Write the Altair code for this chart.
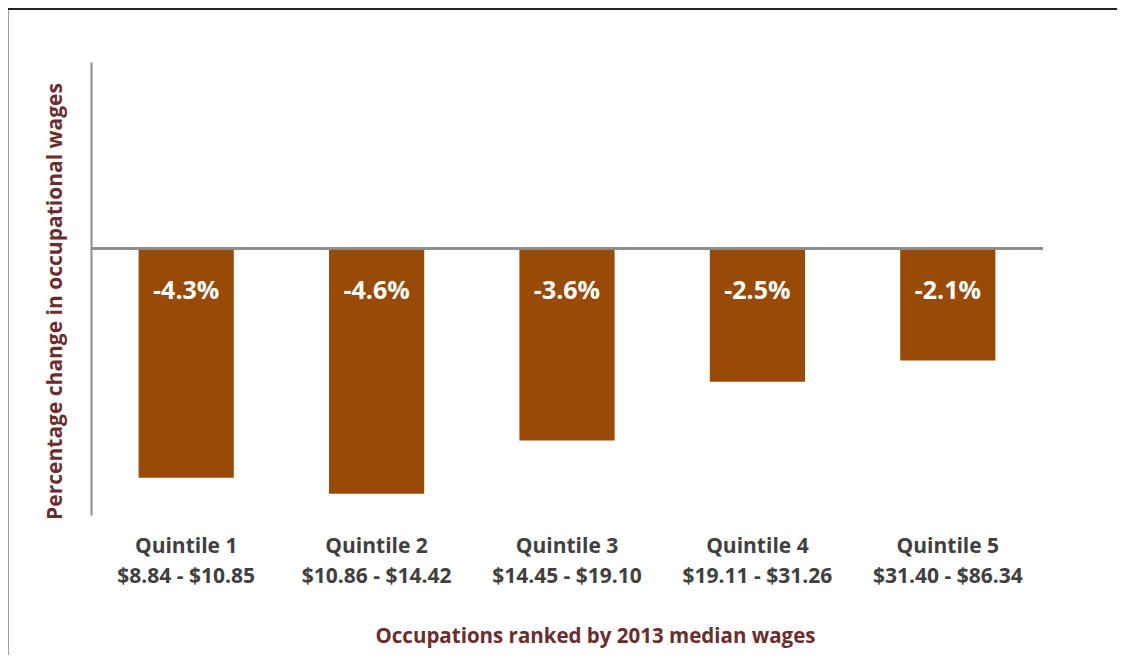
import altair as alt
import pandas as pd

categories = ["Quintile 1\n$8.84 - $10.85", "Quintile 2\n$10.86 - $14.42",
              "Quintile 3\n$14.45 - $19.10", "Quintile 4\n$19.11 - $31.26",
              "Quintile 5\n$31.40 - $86.34"]
values = [-4.3, -4.6, -3.6, -2.5, -2.1]
labels = ["-4.3%", "-4.6%", "-3.6%", "-2.5%", "-2.1%"]

df = pd.DataFrame({"cat": categories, "val": values, "lab": labels})

FONT = "Open Sans"
BAR = "#9a4a07"
MAROON = "#6d2c2c"
GREY = "#8c8c8c"

x = alt.X("cat:N", sort=categories,
          scale=alt.Scale(paddingInner=0.5, paddingOuter=0.25),
          axis=alt.Axis(title="Occupations ranked by 2013 median wages",
                        labelAngle=0, domain=False, ticks=False,
                        labelExpr="split(datum.label, '\\n')",
                        labelFont=FONT, labelFontSize=21, labelFontWeight="bold",
                        labelColor="#404040", labelLineHeight=30, labelPadding=20,
                        titleFont=FONT, titleFontSize=20.5, titleFontWeight="bold",
                        titleColor=MAROON, titleX=504, titleY=121,
                        titleAlign="center", titleBaseline="middle"))
y = alt.Y("val:Q", scale=alt.Scale(domain=[-5, 3.5], nice=False, zero=False),
          axis=alt.Axis(title="Percentage change in occupational wages",
                        labels=False, ticks=False, grid=False,
                        domainColor=GREY, domainWidth=2,
                        titleFont=FONT, titleFontSize=21, titleFontWeight="bold",
                        titleColor=MAROON, titleX=-36, titleY=239,
                        titleAngle=-90, titleAlign="center", titleBaseline="middle"))

bars = alt.Chart(df).mark_bar(color=BAR).encode(x=x, y=y, y2=alt.datum(0))

text = alt.Chart(df).mark_text(color="white", font=FONT, fontSize=25,
                               fontWeight="bold", dy=42, baseline="middle").encode(
    x=alt.X("cat:N", sort=categories), y=alt.datum(0), text="lab:N")

zero = alt.Chart(df).mark_rule(color=GREY, strokeWidth=2).encode(y=alt.datum(0))

border_left = alt.Chart(df).mark_rule(color="#a0a0a0", strokeWidth=1.5, clip=False).encode(
    x=alt.value(-83), y=alt.value(-52), y2=alt.value(700))
top_band = alt.Chart(df).mark_rule(color="#222222", strokeWidth=4, clip=False).encode(
    x=alt.value(-83), x2=alt.value(1100), y=alt.value(-54))

chart = alt.layer(bars, zero, text, border_left, top_band).properties(
    width=952, height=453,
    autosize=alt.AutoSizeParams(type="none"),
    padding={"left": 83, "top": 54, "right": 74, "bottom": 140},
).configure(background="white").configure_view(strokeWidth=0, stroke="transparent")

chart.save("out.html", embed_options={"renderer": "svg", "actions": False})
